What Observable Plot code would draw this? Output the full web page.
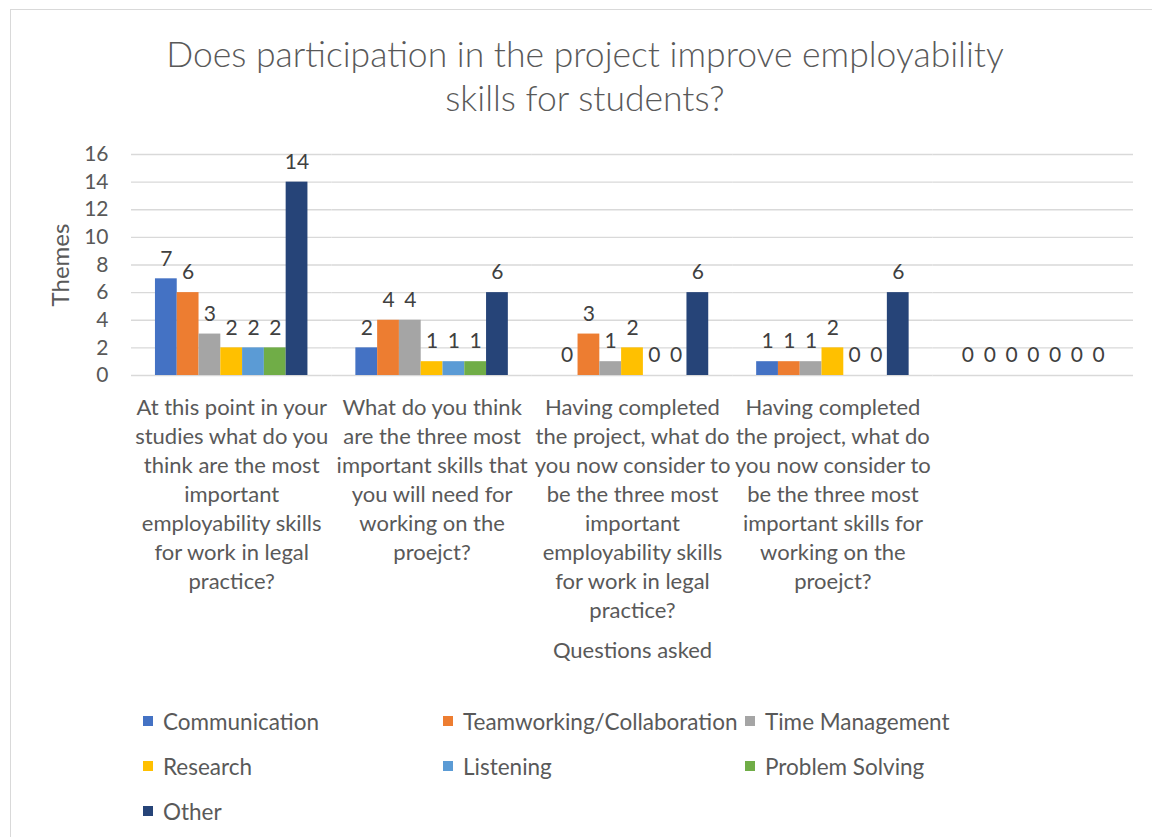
<!DOCTYPE html>
<html>
<head>
<meta charset="utf-8">
<script src="https://cdn.jsdelivr.net/npm/d3@7"></script>
<script src="https://cdn.jsdelivr.net/npm/@observablehq/plot@0.6"></script>
<style>
  html, body { margin: 0; padding: 0; background: #fff; }
  body { width: 1152px; height: 837px; overflow: hidden; position: relative; font-family: Lato, "Open Sans", sans-serif; }
  #frame { position: absolute; left: 10px; top: 9px; width: 1170px; height: 860px; border: 1.5px solid #d9d9d9; box-sizing: border-box; }
  #title { position: absolute; left: 135px; width: 900px; top: 32px; text-align: center; color: #595959; font-size: 35.5px; line-height: 44px; font-weight: 300; }
  #chart { position: absolute; left: 0; top: 130px; }
  #legend { position: absolute; left: 0; top: 0; }
  .item { position: absolute; display: flex; align-items: center; color: #595959; font-size: 22.5px; white-space: nowrap; height: 30px; }
  .sw { width: 10px; height: 10px; margin-right: 10px; flex: none; }
</style>
</head>
<body>
<div id="frame"></div>
<div id="title">Does participation in the project improve employability<br>skills for students?</div>
<div id="chart"></div>
<div id="legend"></div>
<script>
// ---- data ----
const categories = [
  "At this point in your studies what do you think are the most important employability skills for work in legal practice?",
  "What do you think are the three most important skills that you will need for working on the proejct?",
  "Having completed the project, what do you now consider to be the three most important employability skills for work in legal practice?",
  "Having completed the project, what do you now consider to be the three most important skills for working on the proejct?",
  ""
];
const tickLabels = [
  "At this point in your\nstudies what do you\nthink are the most\nimportant\nemployability skills\nfor work in legal\npractice?",
  "What do you think\nare the three most\nimportant skills that\nyou will need for\nworking on the\nproejct?",
  "Having completed\nthe project, what do\nyou now consider to\nbe the three most\nimportant\nemployability skills\nfor work in legal\npractice?",
  "Having completed\nthe project, what do\nyou now consider to\nbe the three most\nimportant skills for\nworking on the\nproejct?",
  ""
];
const series = ["Communication", "Teamworking/Collaboration", "Time Management", "Research", "Listening", "Problem Solving", "Other"];
const colors = ["#4472C4", "#ED7D31", "#A5A5A5", "#FFC000", "#5B9BD5", "#70AD47", "#264478"];
const communication  = [7, 2, 0, 1, 0];
const teamworking    = [6, 4, 3, 1, 0];
const timeManagement = [3, 4, 1, 1, 0];
const research       = [2, 1, 2, 2, 0];
const listening      = [2, 1, 0, 0, 0];
const problemSolving = [2, 1, 0, 0, 0];
const other          = [14, 6, 6, 6, 0];
const yTicks = [0, 2, 4, 6, 8, 10, 12, 14, 16];
const xTitle = "Questions asked";
const yTitle = "Themes";

const seriesValues = [communication, teamworking, timeManagement, research, listening, problemSolving, other];
const data = [];
categories.forEach((c, ci) => {
  series.forEach((s, si) => {
    data.push({cat: c, series: s, value: seriesValues[si][ci]});
  });
});

const W = 1152, H = 545;
const chart = Plot.plot({
  width: W,
  height: H,
  marginLeft: 131,
  marginRight: 19,
  marginTop: 24,
  marginBottom: H - 245,
  style: {fontFamily: "Lato, 'Open Sans', sans-serif", fontSize: "21px", color: "#595959", background: "transparent", overflow: "visible"},
  fx: {domain: categories, padding: 0, round: false},
  x: {domain: series, paddingInner: 0, paddingOuter: 1.1, round: false, axis: null},
  y: {domain: [0, 16]},
  color: {domain: series, range: colors},
  marks: [
    Plot.gridY(yTicks, {stroke: "#d9d9d9", strokeOpacity: 1, strokeWidth: 1.3}),
    Plot.barY(data, {fx: "cat", x: "series", y: "value", fill: "series"}),
    Plot.text(data, {fx: "cat", x: "series", y: "value", text: d => String(d.value), dy: -20, fill: "#404040", fontSize: 21}),
    Plot.axisY({ticks: yTicks, tickSize: 0, tickPadding: 23, fill: "#595959", fontSize: 21, label: null}),
    Plot.axisY({ticks: [], tickSize: 0, fill: "#595959", fontSize: 24,
      label: yTitle, labelAnchor: "center", labelArrow: "none", labelOffset: 80}),
    Plot.axisFx({anchor: "bottom", tickSize: 0, tickPadding: 19, fontSize: 22, lineHeight: 1.32, fill: "#595959",
      tickFormat: d => tickLabels[categories.indexOf(d)],
      label: xTitle, labelAnchor: "center", labelArrow: "none", labelOffset: 282})
  ]
});
document.getElementById("chart").appendChild(chart);

// ---- legend ----
const legend = document.getElementById("legend");
const colX = [143, 443, 745];
const rowY = [721, 766, 811];
series.forEach((s, i) => {
  const el = document.createElement("div");
  el.className = "item";
  el.style.left = colX[i % 3] + "px";
  el.style.top = (rowY[Math.floor(i / 3)] - 15) + "px";
  const sw = document.createElement("span");
  sw.className = "sw";
  sw.style.background = colors[i];
  el.appendChild(sw);
  el.appendChild(document.createTextNode(s));
  legend.appendChild(el);
});
</script>
</body>
</html>
